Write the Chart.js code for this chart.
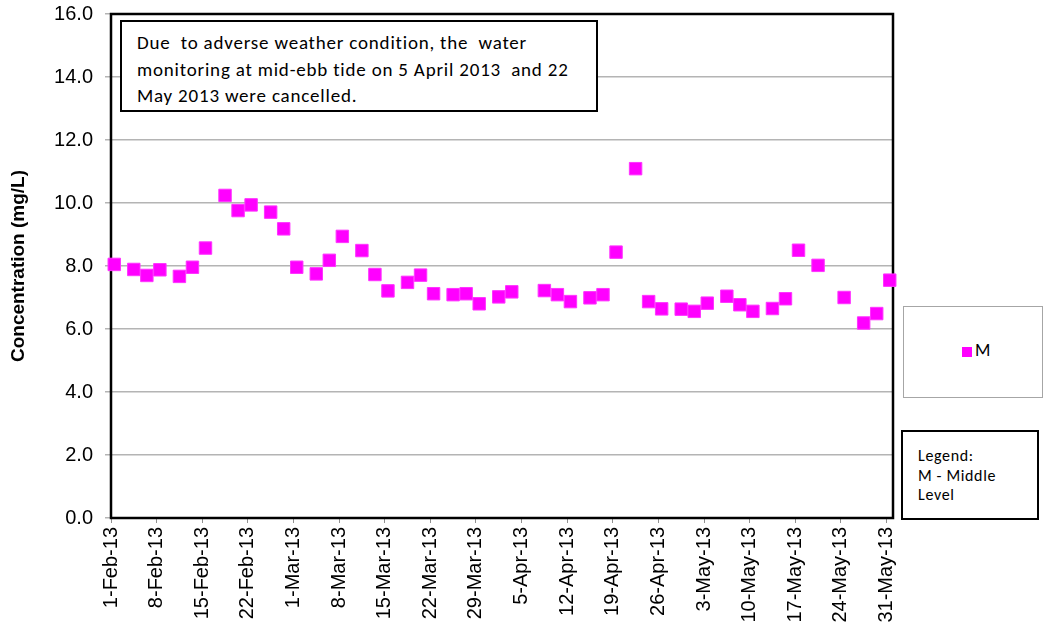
<!DOCTYPE html>
<html>
<head>
<meta charset="utf-8">
<script src="https://cdn.jsdelivr.net/npm/chart.js@4.4.1/dist/chart.umd.min.js"></script>
<style>
  body { margin: 0; background: #fff; }
  #wrap { position: relative; width: 1045px; height: 643px; }
  .box { position: absolute; box-sizing: border-box; background: #fff;
         font-family: Carlito, Lato, "Open Sans", sans-serif; color: #000; }
  #note { left: 120px; top: 20px; width: 478px; height: 92px; border: 2px solid #000;
          padding: 8px 0 0 15px; font-size: 19px; letter-spacing: 0.8px; line-height: 26.7px; white-space: pre; }
  #leg1 { left: 903px; top: 306px; width: 140px; height: 92px; border: 1.5px solid #a6a6a6; }
  #leg1 .mk { position: absolute; left: 58px; top: 40px; width: 10px; height: 10px; background: #ff00ff; }
  #leg1 .lb { position: absolute; left: 71px; top: 32px; font-size: 18px; }
  #leg2 { left: 901px; top: 430px; width: 138px; height: 90px; border: 2px solid #000;
          padding: 14px 0 0 15px; font-size: 16px; letter-spacing: 0.65px; line-height: 19.5px; }
</style>
</head>
<body>
<div id="wrap">
  <canvas id="chart" width="1045" height="643"></canvas>
  <div class="box" id="note">Due  to adverse weather condition, the  water
monitoring at mid-ebb tide on 5 April 2013  and 22
May 2013 were cancelled.</div>
  <div class="box" id="leg1"><div class="mk"></div><div class="lb">M</div></div>
  <div class="box" id="leg2">Legend:<br>M - Middle<br>Level</div>
</div>
<script>
// sampling dates (Mon/Wed/Fri, 5-Apr and 22-May cancelled)
const sampleDates = [
  '2013-02-01','2013-02-04','2013-02-06','2013-02-08','2013-02-11','2013-02-13','2013-02-15',
  '2013-02-18','2013-02-20','2013-02-22','2013-02-25','2013-02-27','2013-03-01','2013-03-04',
  '2013-03-06','2013-03-08','2013-03-11','2013-03-13','2013-03-15','2013-03-18','2013-03-20',
  '2013-03-22','2013-03-25','2013-03-27','2013-03-29','2013-04-01','2013-04-03','2013-04-08',
  '2013-04-10','2013-04-12','2013-04-15','2013-04-17','2013-04-19','2013-04-22','2013-04-24',
  '2013-04-26','2013-04-29','2013-05-01','2013-05-03','2013-05-06','2013-05-08','2013-05-10',
  '2013-05-13','2013-05-15','2013-05-17','2013-05-20','2013-05-24','2013-05-27','2013-05-29',
  '2013-05-31'
];
// M - middle level, mg/L
const middleValues = [
  8.05, 7.89, 7.70, 7.88, 7.67, 7.96, 8.57,
  10.24, 9.76, 9.94, 9.71, 9.18, 7.96, 7.75,
  8.18, 8.94, 8.49, 7.73, 7.21, 7.48, 7.71,
  7.12, 7.09, 7.12, 6.80, 7.02, 7.18, 7.22,
  7.09, 6.87, 6.99, 7.09, 8.44, 11.09, 6.87,
  6.64, 6.63, 6.56, 6.82, 7.04, 6.77, 6.56,
  6.65, 6.96, 8.50, 8.02, 7.00, 6.19, 6.49,
  7.55
];
const tickLabels = ['1-Feb-13','8-Feb-13','15-Feb-13','22-Feb-13','1-Mar-13','8-Mar-13',
  '15-Mar-13','22-Mar-13','29-Mar-13','5-Apr-13','12-Apr-13','19-Apr-13','26-Apr-13',
  '3-May-13','10-May-13','17-May-13','24-May-13','31-May-13'];

const startDay = Date.UTC(2013, 1, 1);
function dayIndex(s) {
  const p = s.split('-');
  return (Date.UTC(+p[0], +p[1] - 1, +p[2]) - startDay) / 86400000;
}

// excel puts the date points in the middle of the day
let points = [];
for (let i = 0; i < sampleDates.length; i++)
  points.push({ x: dayIndex(sampleDates[i]) + 0.5, y: middleValues[i] });

const tickDays = tickLabels.map((t, i) => i * 7);

const plotBorder = {
  id: 'plotBorder',
  beforeDatasetsDraw(chart) {
    const a = chart.chartArea, ctx = chart.ctx;
    ctx.save();
    ctx.strokeStyle = '#000';
    ctx.lineWidth = 2.5;
    ctx.strokeRect(a.left, a.top, a.right - a.left, a.bottom - a.top);
    ctx.restore();
  }
};

new Chart('chart', {
  type: 'scatter',
  data: {
    datasets: [{
      label: 'M',
      data: points,
      pointStyle: 'rect',
      pointRadius: 8.8,
      pointHoverRadius: 8.8,
      backgroundColor: '#ff00ff',
      borderColor: '#ff33ff',
      borderWidth: 1,
      clip: false
    }]
  },
  options: {
    responsive: false,
    animation: false,
    layout: { padding: { top: 14, right: 152, left: 0, bottom: 0 } },
    plugins: { legend: { display: false }, tooltip: { enabled: false } },
    scales: {
      x: {
        type: 'linear',
        min: 0,
        max: 120,
        afterBuildTicks: s => { s.ticks = tickDays.map(v => ({ value: v })); },
        afterFit: s => { s.height = 125; s.paddingLeft = 0; s.paddingRight = 0; },
        grid: { drawOnChartArea: false, color: '#909090', tickLength: 5 },
        border: { display: false },
        ticks: {
          minRotation: 90, maxRotation: 90, autoSkip: false, padding: 4,
          color: '#000',
          font: { family: 'Liberation Sans', size: 20 },
          callback: v => tickLabels[tickDays.indexOf(v)]
        }
      },
      y: {
        min: 0,
        max: 16,
        afterFit: s => { s.width = 111; s.paddingTop = 0; s.paddingBottom = 0; },
        grid: { color: '#b4b4b4', lineWidth: 1.5, tickLength: 6 },
        border: { display: false },
        ticks: {
          stepSize: 2, padding: 12, color: '#000',
          font: { family: 'Liberation Sans', size: 20 },
          callback: v => v.toFixed(1)
        },
        title: {
          display: true,
          text: 'Concentration (mg/L)',
          color: '#000',
          padding: { top: 7, bottom: 0 },
          font: { family: 'Liberation Sans', size: 19, weight: 'bold' }
        }
      }
    }
  },
  plugins: [plotBorder]
});
</script>
</body>
</html>
